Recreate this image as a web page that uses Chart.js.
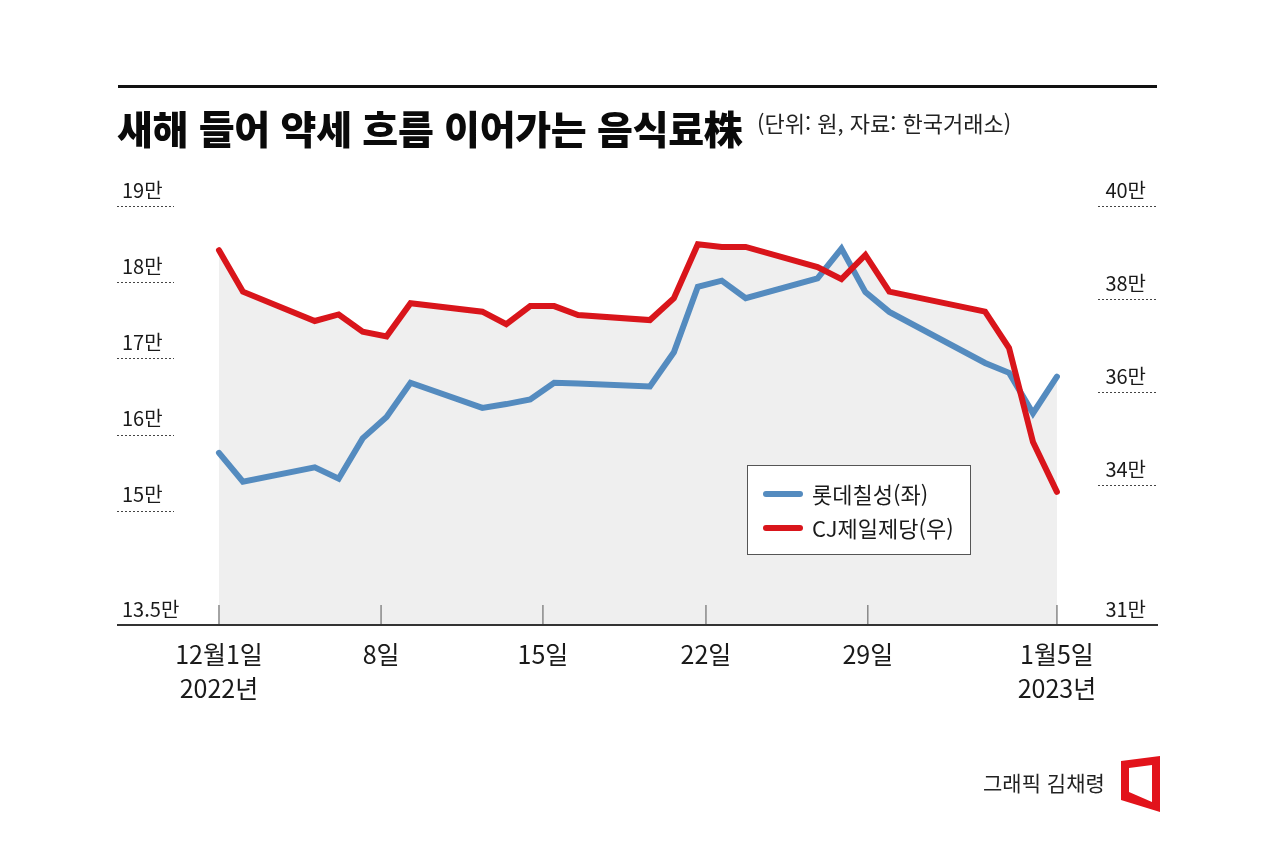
<!DOCTYPE html>
<html lang="ko">
<head>
<meta charset="utf-8">
<script src="https://cdn.jsdelivr.net/npm/chart.js@4.4.1/dist/chart.umd.min.js"></script>
<style>
  html, body { margin:0; padding:0; background:#fff; }
  body { width:1277px; height:867px; position:relative; overflow:hidden; font-family:'Noto Sans CJK KR','Noto Sans',sans-serif; color:#1a1a1a; }
  #wrap { position:absolute; left:0; top:0; width:1277px; height:867px; }
  .rule { position:absolute; left:118px; top:85px; width:1039px; height:3px; background:#111; }
  .title { position:absolute; left:117px; top:107px; font-size:39px; line-height:40px; font-weight:900; letter-spacing:-0.3px; white-space:nowrap; color:#0a0a0a; }
  .sub { position:absolute; left:757px; top:108px; font-size:22px; line-height:28px; font-weight:400; white-space:nowrap; color:#222; }
  .credit { position:absolute; left:983px; top:769px; font-size:21px; line-height:26px; white-space:nowrap; color:#222; }
  svg.logo { position:absolute; left:0; top:0; }
</style>
</head>
<body>
<div id="wrap"><canvas id="c" width="1277" height="867"></canvas></div>
<div class="rule"></div>
<div class="title">새해 들어 약세 흐름 이어가는 음식료株</div>
<div class="sub">(단위: 원, 자료: 한국거래소)</div>
<div class="credit">그래픽 김채령</div>
<svg class="logo" width="1277" height="867"><path d="M1121 761 L1160 756 L1160 812 L1121 800 Z M1129 768 L1152 765 L1152 802 L1129 792 Z" fill="#e2131b" fill-rule="evenodd"/></svg>
<script>
// ---- data ----
const dates = ['2022-12-01','2022-12-02','2022-12-05','2022-12-06','2022-12-07','2022-12-08','2022-12-09',
  '2022-12-12','2022-12-13','2022-12-14','2022-12-15','2022-12-16','2022-12-19','2022-12-20','2022-12-21',
  '2022-12-22','2022-12-23','2022-12-26','2022-12-27','2022-12-28','2022-12-29','2023-01-02','2023-01-03',
  '2023-01-04','2023-01-05'];
const lotteChilsung = [157600,153800,155700,154200,159500,162300,166800,163500,164000,164600,166800,166700,
  166300,170800,179400,180200,177900,180500,184400,178700,176100,169400,168100,162800,167600];
const cjCheiljedang = [390500,381600,375300,376700,373000,372000,379100,377300,374600,378500,378500,376600,
  375500,380200,391800,391200,391200,386900,384300,389500,381600,377300,369500,349300,338600];
const seriesNames = ['롯데칠성(좌)', 'CJ제일제당(우)'];
const xTickDays = [0, 6.77, 13.53, 20.34, 27.1, 35];
const xTickLabels = [['12월1일','2022년'], ['8일'], ['15일'], ['22일'], ['29일'], ['1월5일','2023년']];
const leftTicks = [135000, 150000, 160000, 170000, 180000, 190000];
const leftTickLabels = ['13.5만','15만','16만','17만','18만','19만'];
const rightTicks = [310000, 340000, 360000, 380000, 400000];
const rightTickLabels = ['31만','34만','36만','38만','40만'];

const t0 = Date.parse(dates[0]);
const dayIndex = dates.map(d => (Date.parse(d) - t0) / 86400000);

const BLUE = '#548bbf', RED = '#d9151b', FILL = '#efefef';

Chart.defaults.font.family = "'Noto Sans CJK KR','Noto Sans',sans-serif";
Chart.defaults.color = '#1a1a1a';

const decor = {
  id: 'decor',
  afterDatasetsDraw(chart) {
    const ctx = chart.ctx, a = chart.chartArea;
    const yl = chart.scales.yL, yr = chart.scales.yR, x = chart.scales.x;
    ctx.save();
    // dotted grid stubs
    ctx.strokeStyle = '#444'; ctx.lineWidth = 1; ctx.setLineDash([2, 2]);
    leftTicks.slice(1).forEach(v => {
      const y = Math.round(yl.getPixelForValue(v)) + 0.5;
      ctx.beginPath(); ctx.moveTo(a.left, y); ctx.lineTo(a.left + 57, y); ctx.stroke();
    });
    rightTicks.slice(1).forEach(v => {
      const y = Math.round(yr.getPixelForValue(v)) + 0.5;
      ctx.beginPath(); ctx.moveTo(a.right - 59, y); ctx.lineTo(a.right, y); ctx.stroke();
    });
    ctx.setLineDash([]);
    // tick marks
    ctx.strokeStyle = '#888'; ctx.lineWidth = 1.5;
    xTickDays.forEach(v => {
      const px = x.getPixelForValue(v);
      ctx.beginPath(); ctx.moveTo(px, a.bottom - 20); ctx.lineTo(px, a.bottom); ctx.stroke();
    });
    // baseline
    ctx.strokeStyle = '#333'; ctx.lineWidth = 2;
    ctx.beginPath(); ctx.moveTo(a.left, a.bottom); ctx.lineTo(a.right + 1, a.bottom); ctx.stroke();
    // legend
    const lx = 747.5, ly = 465.5, lw = 223, lh = 89;
    ctx.fillStyle = '#fff'; ctx.fillRect(lx, ly, lw, lh);
    ctx.strokeStyle = '#555'; ctx.lineWidth = 1; ctx.strokeRect(lx, ly, lw, lh);
    const ds = chart.data.datasets;
    [0, 1].forEach((i, k) => {
      const yy = 494 + k * 34;
      ctx.strokeStyle = ds[i].borderColor; ctx.lineWidth = 6; ctx.lineCap = 'round';
      ctx.beginPath(); ctx.moveTo(766, yy); ctx.lineTo(800, yy); ctx.stroke();
      ctx.fillStyle = '#1a1a1a'; ctx.font = "22px 'Noto Sans CJK KR', sans-serif";
      ctx.textAlign = 'left'; ctx.textBaseline = 'middle';
      ctx.fillText(ds[i].label, 812, yy + 1);
    });
    ctx.restore();
  }
};

new Chart(document.getElementById('c'), {
  type: 'line',
  data: {
    datasets: [
      { label: seriesNames[0], data: dayIndex.map((d, i) => ({ x: d, y: lotteChilsung[i] })),
        yAxisID: 'yL', borderColor: BLUE, backgroundColor: FILL, fill: 'start', order: 1,
        borderWidth: 6, pointRadius: 0, tension: 0, borderJoinStyle: 'miter', borderCapStyle: 'round' },
      { label: seriesNames[1], data: dayIndex.map((d, i) => ({ x: d, y: cjCheiljedang[i] })),
        yAxisID: 'yR', borderColor: RED, backgroundColor: FILL, fill: 'start', order: 0,
        borderWidth: 6, pointRadius: 0, tension: 0, borderJoinStyle: 'miter', borderCapStyle: 'round' }
    ]
  },
  options: {
    responsive: false, animation: false, devicePixelRatio: 1,
    layout: { padding: { left: 117, right: 120, top: 206, bottom: 142 } },
    plugins: { legend: { display: false }, tooltip: { enabled: false }, filler: { drawTime: 'beforeDatasetsDraw' } },
    scales: {
      x: {
        type: 'linear', min: -4.26, max: 39.18,
        grid: { display: false, drawTicks: false }, border: { display: false },
        afterBuildTicks: s => { s.ticks = xTickDays.map(v => ({ value: v })); },
        afterFit: s => { s.height = 100; },
        ticks: { autoSkip: false, maxRotation: 0, padding: 12, color: '#1a1a1a',
          font: { size: 25, lineHeight: 1.36 },
          callback: (v, i) => xTickLabels[i] }
      },
      yL: {
        type: 'linear', position: 'left', min: 135000, max: 190000,
        grid: { display: false, drawTicks: false }, border: { display: false },
        afterBuildTicks: s => { s.ticks = leftTicks.map(v => ({ value: v })); },
        afterFit: s => { s.width = 0; },
        ticks: { mirror: true, padding: 5, labelOffset: -16, color: '#1a1a1a', font: { size: 20 },
          callback: (v) => leftTickLabels[leftTicks.indexOf(v)] }
      },
      yR: {
        type: 'linear', position: 'right', min: 310000, max: 400000,
        grid: { display: false, drawTicks: false }, border: { display: false },
        afterBuildTicks: s => { s.ticks = rightTicks.map(v => ({ value: v })); },
        afterFit: s => { s.width = 0; },
        ticks: { mirror: true, padding: -11, labelOffset: -16, color: '#1a1a1a', font: { size: 20 },
          callback: (v) => rightTickLabels[rightTicks.indexOf(v)] }
      }
    }
  },
  plugins: [decor]
});
</script>
</body>
</html>
